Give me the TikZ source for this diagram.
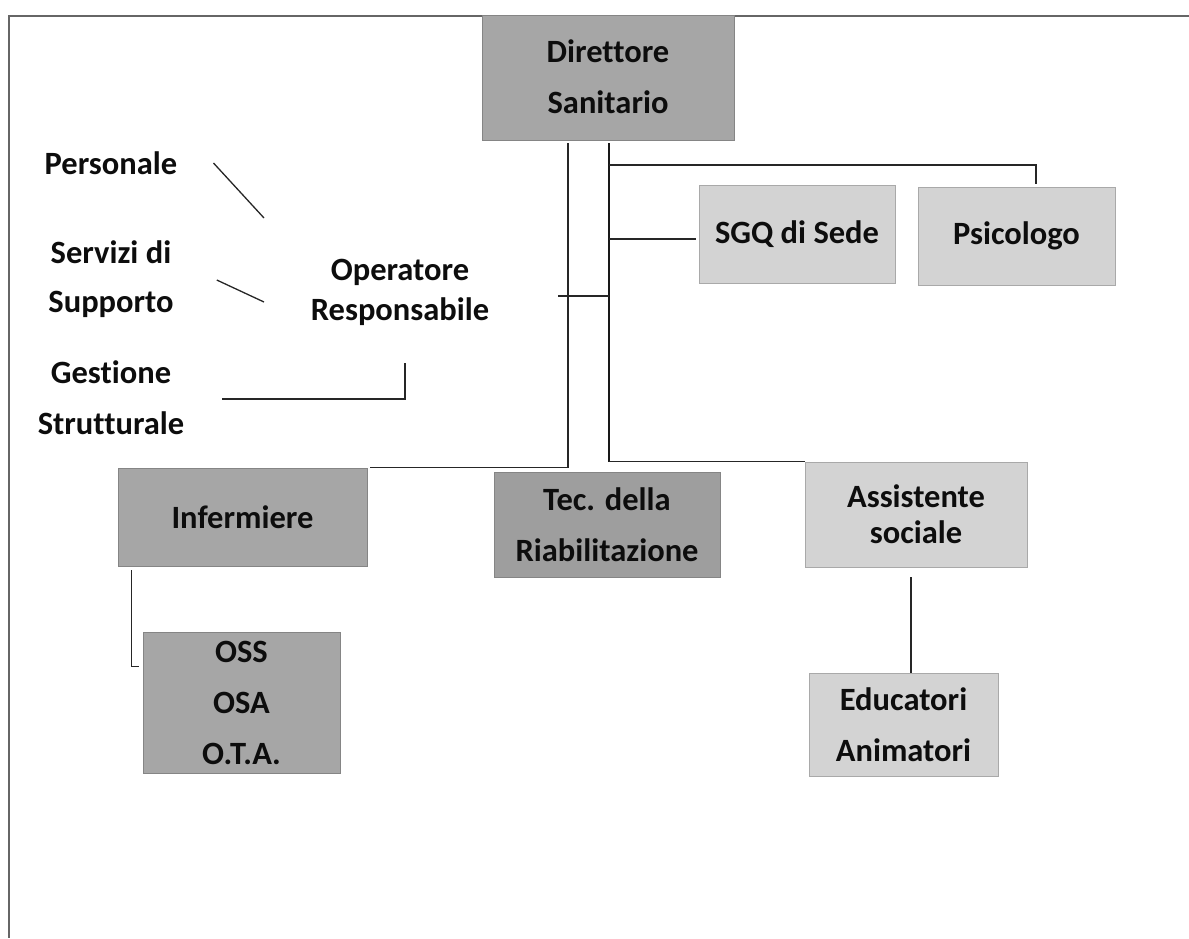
\documentclass[tikz,border=0pt]{standalone}
\usepackage{fontspec}
\setmainfont{Carlito}[Ligatures=NoCommon]
\begin{document}
\begin{tikzpicture}[x=1pt,y=-1pt,
  boxtext/.style={font=\bfseries\fontsize{32.5}{51}\selectfont, text=black!95, align=center, inner sep=0pt},
  darkbox/.style={boxtext, rectangle, fill=boxdark, draw=boxdark!80!black, line width=0.8pt},
  lightbox/.style={boxtext, rectangle, fill=boxlight, draw=boxlight!80!black, line width=0.8pt},
  label/.style={boxtext},
  link/.style={draw=black!85, line width=1.6pt},
  trunk/.style={draw=black!90, line width=2.6pt},
  frame/.style={draw=black!60, line width=1.6pt}]
\definecolor{boxdark}{HTML}{A6A6A6}
\definecolor{boxtec}{HTML}{9E9E9E}
\definecolor{boxlight}{HTML}{D3D3D3}
\useasboundingbox (0,0) rectangle (1189,938);

% page frame
\draw[frame] (1189,16) -- (9,16) -- (9,938);

% boxes
\node[darkbox, minimum width=252pt, minimum height=125pt, text depth=2pt] (dir) at (608,77.5) {Direttore\\Sanitario};
\node[lightbox, minimum width=196pt, minimum height=98pt] (sgq) at (797,234) {SGQ di Sede};
\node[lightbox, minimum width=197pt, minimum height=98pt] (psi) at (1016.5,236) {Psicologo};
\node[darkbox, minimum width=249pt, minimum height=98pt] (inf) at (242.5,517) {Infermiere};
\node[darkbox, fill=boxtec, minimum width=226pt, minimum height=105pt] (tec) at (607,524.5) {Tec. della\\Riabilitazione};
\node[lightbox, font=\bfseries\fontsize{32.5}{36}\selectfont, minimum width=222pt, minimum height=105pt] (ass) at (916,514.5) {Assistente\\sociale};
\node[darkbox, minimum width=197pt, minimum height=141pt] (oss) at (241.5,702.5) {OSS\\OSA\\O.T.A.};
\node[lightbox, minimum width=189pt, minimum height=103pt] (edu) at (903.5,724.5) {Educatori\\Animatori};

% free labels on the left
\node[label] (per) at (111,163) {Personale};
\node[label, font=\bfseries\fontsize{32.5}{49}\selectfont] (ser) at (111,279) {Servizi di\\Supporto};
\node[label] (ges) at (111,398) {Gestione\\Strutturale};
\node[label, font=\bfseries\fontsize{32.5}{40}\selectfont] (opr) at (400,292) {Operatore\\Responsabile};

% trunk positions
\coordinate (tl) at (568,0);
\coordinate (tr) at (609,0);
\coordinate (opin) at (558,296);
\coordinate (perend) at (264,218);
\coordinate (serend) at (264,302);
\coordinate (gesend) at (405,363);
\coordinate (eduin) at (911,577);

% connectors from the director
\draw[link] ([yshift=-3pt]dir.south -| tl) |- ([xshift=3pt]inf.north east);
\draw[trunk] ([yshift=-3pt]dir.south -| tr) -- (tr |- ass.north west);
\draw[link] (tr |- ass.north west) -- (ass.north west);
\draw[link] (tr |- 0,165) -| ([shift={(19.5,-3)}]psi.north);
\draw[link] (tr |- 0,239) -- ([shift={(-3,5)}]sgq.west);
\draw[link] (opin) -- (tr |- opin);

% connectors below
\draw[link] ([shift={(14,4)}]inf.south west) |- ([shift={(-4,35)}]oss.north west);
\draw[link, line width=1.1pt] (eduin) -- (eduin |- edu.north);

% strokes between the left labels and the operator
\draw[link, line width=1.3pt] ([xshift=36pt]per.east) -- (perend);
\draw[link, line width=1.3pt] ([shift={(43,1)}]ser.east) -- (serend);
\draw[link, line width=1.3pt] ([shift={(38,1)}]ges.east) -| (gesend);
\end{tikzpicture}
\end{document}
